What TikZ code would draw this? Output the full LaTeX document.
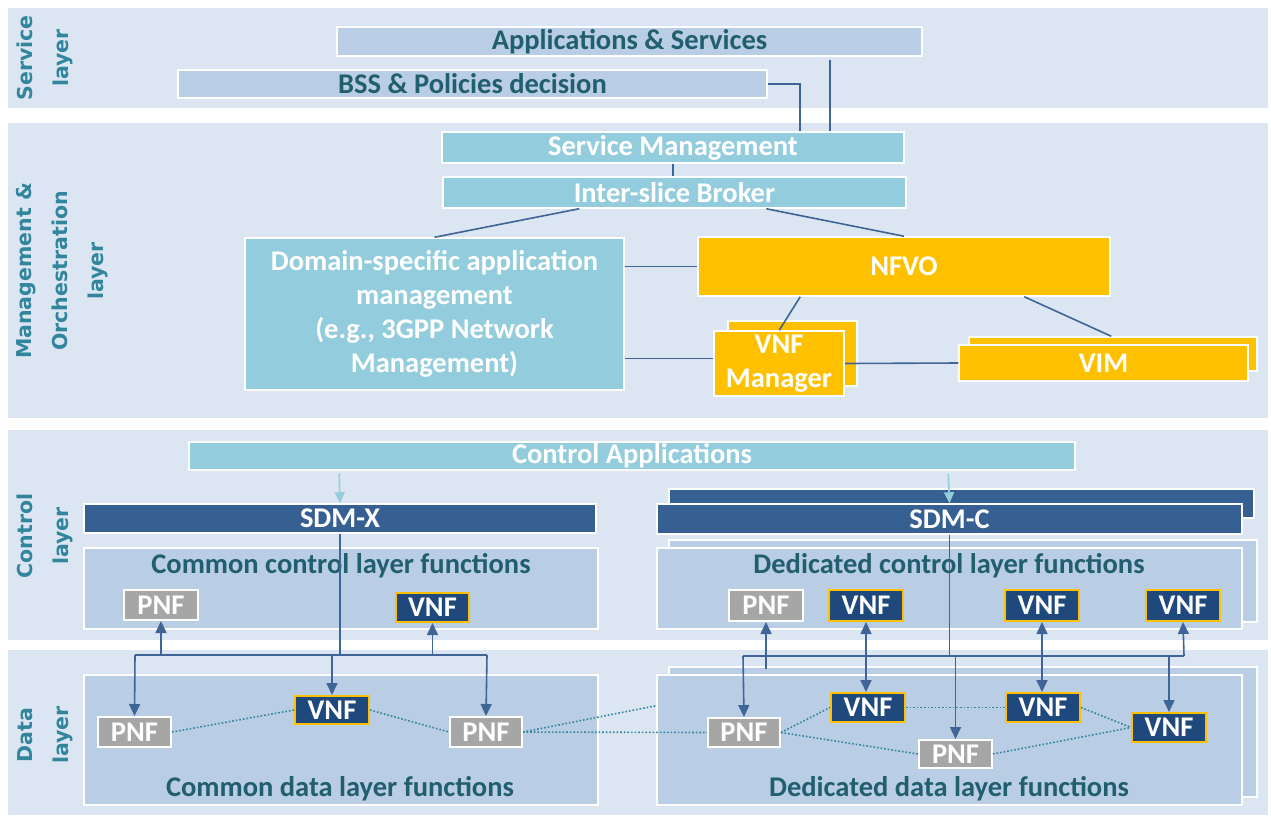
\documentclass[tikz,border=0pt]{standalone}
\usepackage{fontspec}
\setmainfont{Carlito}
\newfontfamily\lblfont{DejaVu Sans}
\usetikzlibrary{arrows.meta,calc}
\definecolor{bandbg}{HTML}{DCE6F2}
\definecolor{lightbox}{HTML}{B9CDE5}
\definecolor{tealbox}{HTML}{93CDDD}
\definecolor{darkteal}{HTML}{215E6E}
\definecolor{lbl}{HTML}{31859C}
\definecolor{sdm}{HTML}{376092}
\definecolor{vnfblue}{HTML}{1F497D}
\definecolor{gold}{HTML}{FFC000}
\definecolor{pnfgrey}{HTML}{A6A6A6}
\definecolor{connc}{HTML}{3F6496}
\definecolor{dotc}{HTML}{31859C}
\definecolor{arrlight}{HTML}{93CDDD}
\tikzset{
  base/.style={rectangle, inner sep=0pt, font=\fontsize{28.5}{34}\selectfont\bfseries, align=center, draw=white, line width=1.5pt},
  band/.style={rectangle, inner sep=0pt, fill=bandbg, draw=none},
  lightb/.style={base, fill=lightbox, text=darkteal},
  tealb/.style={base, fill=tealbox, text=white},
  goldb/.style={base, fill=gold, text=white},
  sdmb/.style={base, fill=sdm, text=white},
  pnfb/.style={base, fill=pnfgrey, text=white, line width=2pt},
  vnfb/.style={base, fill=vnfblue, text=white, draw=gold, line width=2pt},
  funcb/.style={base, fill=lightbox},
  title/.style={inner sep=0pt, text=darkteal, font=\fontsize{28.5}{32}\selectfont\bfseries},
  lay/.style={inner sep=0pt, rotate=90, align=center, text=lbl, font=\lblfont\bfseries\fontsize{20.5}{36}\selectfont},
  conn/.style={draw=connc, line width=1.6pt},
  arr/.style={conn, -{Triangle[length=12pt,width=11pt]}},
  darr/.style={conn, {Triangle[length=12pt,width=11pt]}-{Triangle[length=12pt,width=11pt]}},
  carr/.style={draw=arrlight, line width=1.6pt, -{Triangle[length=11pt,width=10pt]}},
  dotl/.style={draw=dotc, line width=1.6pt, dotted}
}
\newcommand\bx[7]{\node[#2,minimum width={(#5)-(#3)},minimum height={(#6)-(#4)}] (#1) at ({((#3)+(#5))/2},{((#4)+(#6))/2}) {#7};}
\newcommand\bnd[5]{\node[band,minimum width={(#4)-(#2)},minimum height={(#5)-(#3)}] (#1) at ({((#2)+(#4))/2},{((#3)+(#5))/2}) {};}
\begin{document}
\begin{tikzpicture}[x=1pt,y=-1pt]
\useasboundingbox[fill=white] (0,0) rectangle (1271,815);
% bands
\bnd{bandS}{8}{8}{1268}{108}
\bnd{bandM}{8}{123}{1268}{418}
\bnd{bandC}{8}{430}{1268}{640}
\bnd{bandD}{8}{650}{1268}{815}
% layer labels
\node[lay] (labS) at (45,58) {Service\\layer};
\node[lay] (labM) at (62,271) {Management \&\\Orchestration\\layer};
\node[lay] (labC) at (45,536) {Control\\layer};
\node[lay] (labD) at (45,735) {Data\\layer};
% service layer
\bx{apps}{lightb}{337}{27}{922}{56}{Applications \& Services}
\bx{bss}{lightb}{178}{70}{767}{98}{BSS \& Policies decision}
% management layer
\bx{sm}{tealb}{442}{132}{904}{163}{Service Management}
\bx{isb}{tealb}{443}{177}{906}{208}{Inter-slice Broker}
\bx{dom}{tealb}{245}{238}{624}{390}{Domain-specific application\\management\\(e.g., 3GPP Network\\Management)}
\bx{nfvo}{goldb}{698}{237}{1110}{296}{NFVO}
\bx{vnfmB}{goldb}{728}{321}{857}{386}{}
\bx{vnfm}{goldb}{714}{331}{844}{396}{VNF\\Manager}
\bx{vimB}{goldb}{969}{337}{1257}{371}{}
\bx{vim}{goldb}{959}{345}{1248}{381}{VIM}
\draw[conn] (bss.east) -| ($(sm.north west)+(359,0)$);
\draw[conn] ($(apps.south west)+(494,3)$) -- ($(sm.north west)+(389,0)$);
\draw[conn] ($(sm.south west)+(232,0)$) -- ($(isb.north west)+(231,0)$);
\draw[conn] ($(isb.south west)+(137,0)$) -- (dom.north);
\draw[conn] ($(isb.south west)+(324,0)$) -- (nfvo.north);
\draw[conn] (nfvo.west) -- (nfvo.west -| dom.east);
\draw[conn] ($(vnfm.west)+(0,-5)$) -- ($(vnfm.west -| dom.east)+(0,-5)$);
\draw[conn] ($(nfvo.south west)+(103,0)$) -- ($(vnfm.north west)+(66,0)$);
\draw[conn] ($(nfvo.south west)+(327,0)$) -- ($(vimB.north west)+(143,0)$);
\draw[conn] (vnfm.east) -- (vim.west);
% control layer
\bx{capps}{tealb}{189}{442}{1075}{470}{Control Applications}
\bx{sdmx}{sdmb}{84}{504}{596}{533}{SDM-X}
\bx{sdmcB}{sdmb}{669}{489}{1254}{518}{}
\bx{sdmc}{sdmb}{657}{504}{1242}{534}{SDM-C}
\draw[carr] ($(capps.south west)+(151,3)$) -- (sdmx.north);
\draw[carr] ($(capps.south west)+(760,3)$) -- (sdmc.north);
\bx{ccf}{funcb}{84}{548}{598}{629}{}
\bx{dcfB}{funcb}{669}{540}{1257}{622}{}
\bx{dcf}{funcb}{657}{548}{1242}{629}{}
\node[title] (ccfT) at (341,566) {Common control layer functions};
\node[title] (dcfT) at (949,566) {Dedicated control layer functions};
% data layer boxes
\bx{cdf}{funcb}{84}{675}{598}{805}{}
\coordinate (hidden) at (700,697);
\bx{pnfD2}{pnfb}{450}{717}{522}{747}{PNF}
\draw[dotl] (pnfD2.east) -- (hidden);
\bx{ddfB}{funcb}{669}{667}{1257}{797}{}
\bx{ddf}{funcb}{657}{675}{1242}{805}{}
\node[title] (cdfT) at (340,789) {Common data layer functions};
\node[title] (ddfT) at (949,789) {Dedicated data layer functions};
% buses (common)
\coordinate (busL) at (135,655);
\coordinate (busR) at (487,655);
\draw[conn] (sdmx.south) -- (sdmx.south |- busL);
\draw[conn] (busL) -- (busR);
% dedicated bus
\coordinate (busL2) at (743,656);
\coordinate (busR2) at (1184,656);
\draw[conn] (sdmc.south) -- (sdmc.south |- busL2);
\draw[conn] (busL2) -- (busR2);
% small function nodes
\bx{pnfC1}{pnfb}{124}{590}{198}{620}{PNF}
\bx{vnfC1}{vnfb}{396}{593}{469}{622}{VNF}
\bx{pnfD1}{pnfb}{98}{717}{171}{747}{PNF}
\bx{vnfD1}{vnfb}{295}{696}{369}{724}{VNF}
\bx{pnfD2x}{pnfb}{450}{717}{522}{747}{PNF}
\bx{pnfC2}{pnfb}{729}{590}{803}{621}{PNF}
\bx{vnfC2}{vnfb}{829}{590}{903}{621}{VNF}
\bx{vnfC3}{vnfb}{1005}{590}{1079}{621}{VNF}
\bx{vnfC4}{vnfb}{1146}{590}{1220}{621}{VNF}
\bx{pnfD3}{pnfb}{708}{718}{780}{747}{PNF}
\bx{vnfD2}{vnfb}{831}{693}{905}{722}{VNF}
\bx{vnfD3}{vnfb}{1006}{693}{1080}{722}{VNF}
\bx{vnfD4}{vnfb}{1132}{713}{1206}{742}{VNF}
\bx{pnfD4}{pnfb}{919}{740}{992}{768}{PNF}
% arrows
\draw[arr] (busL) -- (pnfD1.north);
\draw[arr] (busR) -- (pnfD2x.north);
\draw[arr] (busL -| vnfD1.north) -- (vnfD1.north);
\draw[arr] (busL -| pnfC1.south) -- (pnfC1.south);
\draw[arr] (busL -| vnfC1.south) -- (vnfC1.south);
\draw[arr] (busL2) -- (pnfD3.north);
\draw[arr] (busR2) -- (vnfC4.south);
\draw[arr] (busL2 -| pnfD4.north) -- (pnfD4.north);
\draw[arr] (busL2 -| vnfD4.north) -- (vnfD4.north);
\draw[arr] ($(pnfC2.south)+(0,47)$) -- (pnfC2.south);
\draw[darr] (vnfC2.south) -- (vnfC2.south |- vnfD2.north);
\draw[darr] (vnfC3.south) -- (vnfC3.south |- vnfD3.north);
% dotted data links
\draw[dotl] (pnfD1.east) -- (vnfD1.west);
\draw[dotl] (vnfD1.east) -- (pnfD2x.west);
\draw[dotl] (pnfD2x.east) -- (pnfD3.west);
\draw[dotl] (pnfD3.east) -- (vnfD2.west);
\draw[dotl] (pnfD3.east) -- (pnfD4.west);
\draw[dotl] (vnfD2.east) -- (vnfD3.west);
\draw[dotl] (vnfD3.east) -- (vnfD4.west);
\draw[dotl] (pnfD4.east) -- (vnfD4.west);
\end{tikzpicture}
\end{document}
